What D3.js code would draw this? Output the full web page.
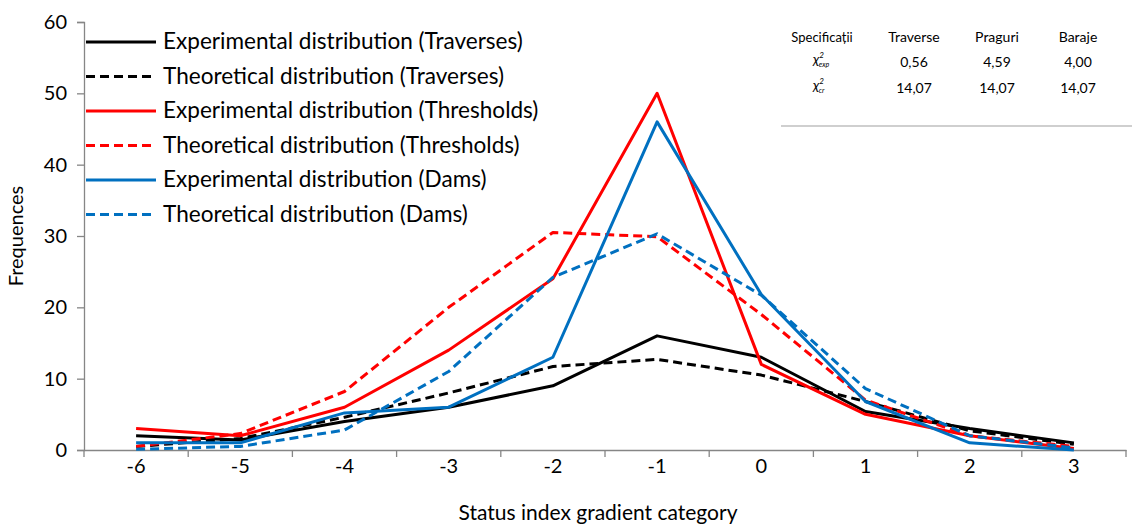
<!DOCTYPE html>
<html>
<head>
<meta charset="utf-8">
<script src="https://cdn.jsdelivr.net/npm/d3@7"></script>
<style>
  html, body { margin: 0; padding: 0; background: #fff; }
  svg { display: block; }
  text { font-family: Lato, "Open Sans", sans-serif; fill: #000; }
</style>
</head>
<body>
<svg id="chart" width="1132" height="525"></svg>
<script>
// Status index gradient categories
const categories = [-6, -5, -4, -3, -2, -1, 0, 1, 2, 3];

// Frequencies per category
const expTraverses   = [2, 1.4, 4, 6, 9, 16, 13, 5.4, 3, 1];
const theoTraverses  = [0.5, 1.6, 4.6, 8, 11.7, 12.7, 10.5, 6.8, 2.7, 0.8];
const expThresholds  = [3, 2, 6, 14, 24, 50, 12, 5, 2, 0.2];
const theoThresholds = [0.5, 2.3, 8.2, 20, 30.5, 29.9, 19, 7, 2, 0.5];
const expDams        = [1, 1, 5.2, 6, 13, 46, 21.8, 6.8, 1, 0];
const theoDams       = [0.1, 0.5, 2.8, 11, 24.2, 30.3, 21.7, 8.6, 2, 0.3];

const seriesNames = [
  "Experimental distribution (Traverses)",
  "Theoretical distribution (Traverses)",
  "Experimental distribution (Thresholds)",
  "Theoretical distribution (Thresholds)",
  "Experimental distribution (Dams)",
  "Theoretical distribution (Dams)"
];
const seriesValues = [expTraverses, theoTraverses, expThresholds, theoThresholds, expDams, theoDams];
const seriesColors = ["#000000", "#000000", "#ff0000", "#ff0000", "#0070c0", "#0070c0"];
const seriesDashed = [false, true, false, true, false, true];

const yTicks = [0, 10, 20, 30, 40, 50, 60];

// Chi-square summary table
const tableHeader = ["Specificații", "Traverse", "Praguri", "Baraje"];
const chiExp  = ["0,56", "4,59", "4,00"];
const chiCrit = ["14,07", "14,07", "14,07"];

(function draw() {
  const svg = d3.select("#chart");
  const plotLeft = 84, plotRight = 1126, plotTop = 22, plotBottom = 450;
  const axisColor = "#868686";

  const x = d3.scaleBand().domain(categories).range([plotLeft, plotRight]);
  const y = d3.scaleLinear().domain([0, 60]).range([plotBottom, plotTop]);

  // Y axis
  const yAxis = svg.append("g").attr("transform", `translate(${plotLeft},0)`)
    .call(d3.axisLeft(y).tickValues(yTicks).tickSize(7).tickPadding(10));
  yAxis.select(".domain").attr("stroke", axisColor).attr("stroke-width", 1.3);
  yAxis.selectAll(".tick line").attr("stroke", axisColor).attr("stroke-width", 1.3);
  yAxis.selectAll("text").style("font-size", "20px").attr("fill", "#000")
    .style("font-family", "Lato, sans-serif");

  // X axis: ticks at category boundaries
  const xAxis = svg.append("g").attr("transform", `translate(0,${plotBottom})`)
    .call(d3.axisBottom(x).tickSize(0).tickPadding(9));
  xAxis.select(".domain").attr("stroke", axisColor).attr("stroke-width", 1.3);
  xAxis.selectAll("text").style("font-size", "20px").attr("fill", "#000")
    .style("font-family", "Lato, sans-serif");
  const bounds = categories.map(c => x(c)).concat([x(categories[categories.length - 1]) + x.bandwidth()]);
  xAxis.selectAll(".bound").data(bounds).enter().append("line")
    .attr("x1", d => d).attr("x2", d => d).attr("y1", 0).attr("y2", 7)
    .attr("stroke", axisColor).attr("stroke-width", 1.3);

  // Axis titles
  svg.append("text").attr("x", 598).attr("y", 520).attr("text-anchor", "middle")
    .style("font-size", "21px").text("Status index gradient category");
  svg.append("text").attr("transform", `translate(23,236) rotate(-90)`)
    .attr("text-anchor", "middle").style("font-size", "20px").text("Frequences");

  // Series lines
  const line = d3.line().x((d, i) => x(categories[i]) + x.bandwidth() / 2).y(d => y(d));
  seriesValues.forEach((vals, k) => {
    svg.append("path").datum(vals)
      .attr("d", line)
      .attr("fill", "none")
      .attr("stroke", seriesColors[k])
      .attr("stroke-width", 3)
      .attr("stroke-linejoin", "round")
      .attr("stroke-dasharray", seriesDashed[k] ? "9,5" : null);
  });

  // Legend (label size chosen so the first label spans 360px)
  const legend = svg.append("g");
  const labels = [];
  seriesNames.forEach((name, k) => {
    const ly = 42 + k * 34.5;
    legend.append("line").attr("x1", 86).attr("x2", 156).attr("y1", ly).attr("y2", ly)
      .attr("stroke", seriesColors[k]).attr("stroke-width", 3)
      .attr("stroke-dasharray", seriesDashed[k] ? "9,5" : null);
    labels.push(legend.append("text").attr("x", 163).attr("y", ly + 7)
      .style("font-size", "20px").text(name));
  });
  const w0 = labels[0].node().getComputedTextLength();
  const legendSize = Math.min(23, 20 * 360 / w0);
  labels.forEach(t => t.style("font-size", legendSize + "px"));

  // Chi-square table
  const table = svg.append("g")
    .style("font-family", "'DejaVu Sans Condensed', 'DejaVu Sans', sans-serif")
    .style("font-stretch", "condensed");
  const colX = [822, 914, 997, 1078];
  tableHeader.forEach((h, i) => {
    table.append("text").attr("x", colX[i]).attr("y", 42).attr("text-anchor", "middle")
      .style("font-size", i === 0 ? "13px" : "14px").text(h);
  });
  function chiLabel(yy, sub) {
    const t = table.append("text").attr("x", colX[0] - 9).attr("y", yy).style("font-size", "14px")
      .style("font-style", "italic");
    t.append("tspan").text("χ");
    t.append("tspan").attr("dy", -6).style("font-size", "8px").text("2");
    t.append("tspan").attr("dx", -5).attr("dy", 9).style("font-size", "7px").text(sub);
  }
  chiLabel(64, "exp");
  chiLabel(90, "cr");
  chiExp.forEach((v, i) => {
    table.append("text").attr("x", colX[i + 1]).attr("y", 67).attr("text-anchor", "middle")
      .style("font-size", "14px").text(v);
  });
  chiCrit.forEach((v, i) => {
    table.append("text").attr("x", colX[i + 1]).attr("y", 93).attr("text-anchor", "middle")
      .style("font-size", "14px").text(v);
  });
  svg.append("line").attr("x1", 781).attr("x2", 1132).attr("y1", 126).attr("y2", 126)
    .attr("stroke", "#bfbfbf").attr("stroke-width", 1.3);
})();
</script>
</body>
</html>
